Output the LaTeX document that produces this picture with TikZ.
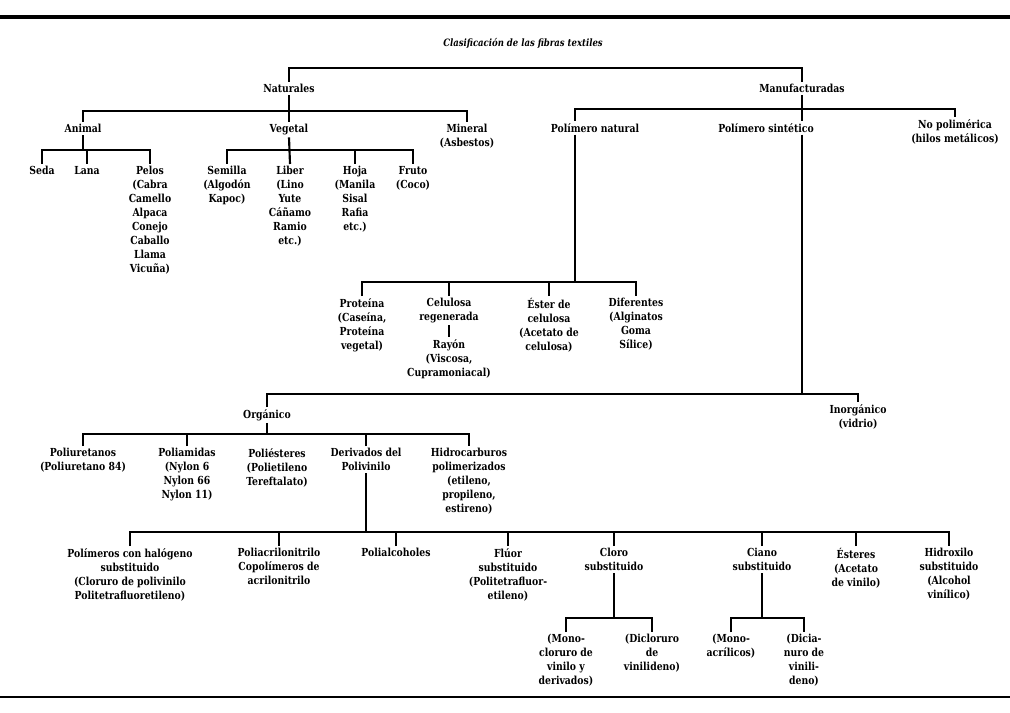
\documentclass[tikz,border=0pt]{standalone}
\usepackage{fontspec}
\usepackage{tikz}
\usetikzlibrary{positioning,calc}
\newfontfamily\treefont{DejaVu Serif}[FakeStretch=0.84]
\tikzset{
  lbl/.style={font=\treefont\fontsize{8.3}{10.5}\selectfont\bfseries,align=center,inner sep=1.5pt,anchor=north},
  ttl/.style={font=\treefont\fontsize{7.6}{9}\selectfont\bfseries\itshape,inner sep=1pt},
  con/.style={line width=1.6pt},
  rule/.style={line width=2.6pt}}

\begin{document}
\begin{tikzpicture}[x=0.75pt,y=-0.75pt]
\useasboundingbox (0,0) rectangle (1010,713);
\draw[rule] (0,17) -- (1010,17);
\draw[rule,line width=2pt] (0,697) -- (1010,697);
\node[ttl] (title) at (523,43) {Clasificación de las fibras textiles};

% level 1
\node[lbl] (nat) at (289,82) {Naturales};
\node[lbl] (man) at (802,82) {Manufacturadas};
\coordinate (tb) at (545,68);
\draw[con] (nat.north) |- (tb) -| (man.north);

% naturales
\node[lbl] (anim) at (83,122) {Animal};
\node[lbl] (veg) at (289,122) {Vegetal};
\node[lbl] (mine) at (467,122) {Mineral\\(Asbestos)};
\coordinate (nb) at (289,111);
\draw[con] (anim.north) |- (nb) -| (mine.north);
\draw[con] (nat.south) -- (veg.north);

\node[lbl] (seda) at (42,164) {Seda};
\node[lbl] (lana) at (87,164) {Lana};
\node[lbl] (pelos) at (150,164) {Pelos\\(Cabra\\Camello\\Alpaca\\Conejo\\Caballo\\Llama\\Vicuña)};
\coordinate (ab) at (83,150);
\draw[con] (seda.north) |- (ab) -| (pelos.north);
\draw[con] (anim.south) -- (ab);
\draw[con] (lana.north) -- (lana.north |- ab);

\node[lbl] (semi) at (227,164) {Semilla\\(Algodón\\Kapoc)};
\node[lbl] (liber) at (290,164) {Liber\\(Lino\\Yute\\Cáñamo\\Ramio\\etc.)};
\node[lbl] (hoja) at (355,164) {Hoja\\(Manila\\Sisal\\Rafia\\etc.)};
\node[lbl] (fruto) at (413,164) {Fruto\\(Coco)};
\coordinate (vb) at (290,150);
\draw[con] (semi.north) |- (vb) -| (fruto.north);
\draw[con] (veg.south) -- (liber.north);
\draw[con] (hoja.north) -- (hoja.north |- vb);

% manufacturadas
\node[lbl] (pnat) at (595,121) {Polímero natural};
\node[lbl] (psin) at (766,121) {Polímero sintético};
\node[lbl] (nopol) at (955,117) {No polimérica\\(hilos metálicos)};
\coordinate (mbL) at (575,109);
\draw[con] (mbL |- pnat.north) |- (man.south |- mbL) -| (nopol.north);
\draw[con] (man.south) -- (man.south |- psin.north);

% polimero natural
\node[lbl] (prot) at (362,296) {Proteína\\(Caseína,\\Proteína\\vegetal)};
\node[lbl] (celu) at (449,296) {Celulosa\\regenerada};
\node[lbl] (ester) at (549,296) {Éster de\\celulosa\\(Acetato de\\celulosa)};
\node[lbl] (dif) at (636,296) {Diferentes\\(Alginatos\\Goma\\Sílice)};
\node[lbl] (ray) at (449,337) {Rayón\\(Viscosa,\\Cupramoniacal)};
\coordinate (pnb) at (575,282);
\draw[con] (prot.north) |- (pnb) -| (dif.north);
\draw[con] (mbL |- pnat.south) -- (pnb);
\draw[con] (celu.north) -- (celu.north |- pnb);
\draw[con] (ester.north) -- (ester.north |- pnb);
\draw[con] (celu.south) -- (ray.north);

% polimero sintetico
\node[lbl] (org) at (267,407) {Orgánico};
\node[lbl] (inorg) at (858,402) {Inorgánico\\(vidrio)};
\coordinate (sb) at (802,394);
\draw[con] (org.north) |- (sb) -| (inorg.north);
\draw[con] (man.south |- psin.south) -- (sb);

% organico
\node[lbl] (pure) at (83,446) {Poliuretanos\\(Poliuretano 84)};
\node[lbl] (pam) at (187,446) {Poliamidas\\(Nylon 6\\Nylon 66\\Nylon 11)};
\node[lbl] (pes) at (277,446) {Poliésteres\\(Polietileno\\Tereftalato)};
\node[lbl] (der) at (366,446) {Derivados del\\Polivinilo};
\node[lbl] (hidro) at (469,446) {Hidrocarburos\\polimerizados\\(etileno,\\propileno,\\estireno)};
\coordinate (ob) at (267,434);
\draw[con] (pure.north) |- (ob) -| (hidro.north);
\draw[con] (org.south) -- (ob);
\draw[con] (pam.north) -- (pam.north |- ob);
\draw[con] (der.north) -- (der.north |- ob);

% derivados del polivinilo
\node[lbl] (phal) at (130,546) {Polímeros con halógeno\\substituido\\(Cloruro de polivinilo\\Politetrafluoretileno)};
\node[lbl] (pacr) at (279,546) {Poliacrilonitrilo\\Copolímeros de\\acrilonitrilo};
\node[lbl] (palc) at (396,546) {Polialcoholes};
\node[lbl] (fluor) at (508,546) {Flúor\\substituido\\(Politetrafluor-\\etileno)};
\node[lbl] (cloro) at (614,546) {Cloro\\substituido};
\node[lbl] (ciano) at (762,546) {Ciano\\substituido};
\node[lbl] (est2) at (856,546) {Ésteres\\(Acetato\\de vinilo)};
\node[lbl] (hidx) at (949,546) {Hidroxilo\\substituido\\(Alcohol\\vinílico)};
\coordinate (db) at (366,532);
\draw[con] (phal.north) |- (db) -| (hidx.north);
\draw[con] (der.south) -- (db);
\foreach \n in {pacr,palc,fluor,cloro,ciano,est2}
  \draw[con] (\n.north) -- (\n.north |- db);

% cloro / ciano
\node[lbl] (mcl) at (566,632) {(Mono-\\cloruro de\\vinilo y\\derivados)};
\node[lbl] (dcl) at (652,632) {(Dicloruro\\de\\vinilideno)};
\node[lbl] (mac) at (731,632) {(Mono-\\acrílicos)};
\node[lbl] (dcn) at (804,632) {(Dicia-\\nuro de\\vinili-\\deno)};
\coordinate (cb) at (614,618);
\coordinate (nb2) at (762,618);
\draw[con] (mcl.north) |- (cb) -| (dcl.north);
\draw[con] (cloro.south) -- (cb);
\draw[con] (mac.north) |- (nb2) -| (dcn.north);
\draw[con] (ciano.south) -- (nb2);
\end{tikzpicture}
\end{document}
